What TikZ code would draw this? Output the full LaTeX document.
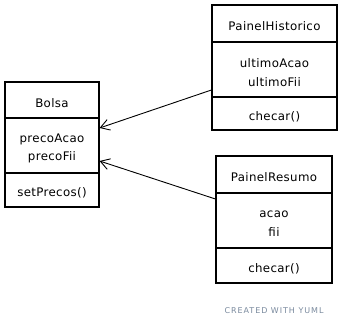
\documentclass[tikz,border=0pt]{standalone}
\usepackage{fontspec}
\setmainfont{DejaVu Sans}
\usetikzlibrary{arrows.meta,calc}
\definecolor{creditgray}{RGB}{122,138,158}
\begin{document}
\begin{tikzpicture}[x=1pt,y=-1pt,
  comp/.style={draw, line width=1.1pt, inner sep=0pt},
  comptext/.style={inner sep=0pt, align=center, yshift=-3pt,
    font=\fontsize{11.8}{18.5}\selectfont\addfontfeature{LetterSpace=3}},
  assoc/.style={draw, line width=0.9pt, -{Straight Barb[length=9pt,width=11pt]}}]
\useasboundingbox (0,0) rectangle (343,326);
\fill[white] (0,0) rectangle (343,326);

% Bolsa
\node[comp, minimum width=94pt, minimum height=36pt] (bname) at (52,100) {};
\node[comp, minimum width=94pt, minimum height=55pt] (battr) at (52,145.5) {};
\node[comp, minimum width=94pt, minimum height=34pt] (bops) at (52,190) {};
\node[comptext] (bnamet) at (bname) {Bolsa};
\node[comptext] (battrt) at (battr) {precoAcao\\precoFii};
\node[comptext] (bopst) at (bops) {setPrecos()};

% PainelHistorico
\node[comp, minimum width=125pt, minimum height=37pt] (hname) at (274.5,23.5) {};
\node[comp, minimum width=125pt, minimum height=55pt] (hattr) at (274.5,69.5) {};
\node[comp, minimum width=125pt, minimum height=33pt] (hops) at (274.5,113.5) {};
\node[comptext] (hnamet) at (hname) {PainelHistorico};
\node[comptext] (hattrt) at (hattr) {ultimoAcao\\ultimoFii};
\node[comptext] (hopst) at (hops) {checar()};

% PainelResumo
\node[comp, minimum width=116pt, minimum height=37pt] (rname) at (274,174.5) {};
\node[comp, minimum width=116pt, minimum height=55pt] (rattr) at (274,220.5) {};
\node[comp, minimum width=116pt, minimum height=35pt] (rops) at (274,265.5) {};
\node[comptext] (rnamet) at (rname) {PainelResumo};
\node[comptext] (rattrt) at (rattr) {acao\\fii};
\node[comptext] (ropst) at (rops) {checar()};

% connector end points on the box borders
\coordinate (h1) at (hattr.west |- 0,90);
\coordinate (b1) at (battr.east |- 0,128);
\coordinate (r1) at (rattr.west |- 0,199);
\coordinate (b2) at (battr.east |- 0,161);

\draw[assoc] (h1) -- (b1);
\draw[assoc] (r1) -- (b2);

\node[text=creditgray, font=\fontsize{8}{9}\selectfont\addfontfeature{LetterSpace=12}] (credit) at (274,311) {CREATED WITH YUML};
\end{tikzpicture}
\end{document}
